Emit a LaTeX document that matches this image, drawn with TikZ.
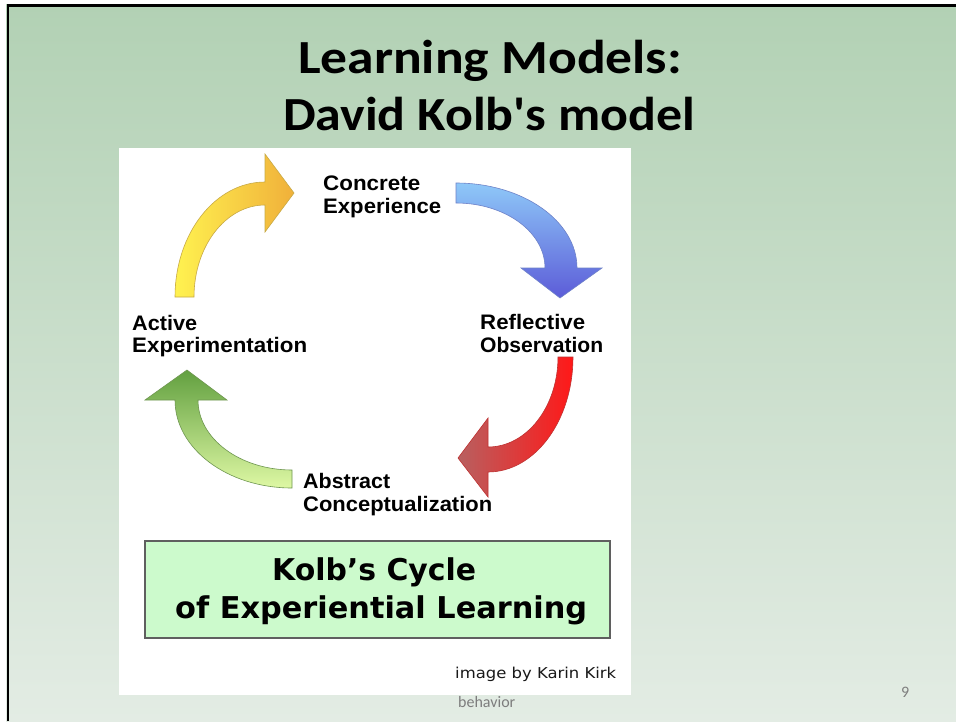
\documentclass[tikz,border=0pt]{standalone}
\usepackage{fontspec}
\usepackage{graphicx}
\newfontfamily\titlefont{Carlito}
\newfontfamily\labelfont{Liberation Sans}
\newfontfamily\boxfont{DejaVu Sans}

% set a line of text and stretch it horizontally to a given width (in pt)
\newsavebox\fitbox
\newcommand\fitwidth[2]{\sbox\fitbox{#2}\pgfmathsetmacro\fitratio{#1/\the\wd\fitbox}\scalebox{\fitratio}[1]{\usebox\fitbox}}

\definecolor{bgtop}{RGB}{178,209,180}
\definecolor{bgbot}{RGB}{227,236,228}
\definecolor{yellowtail}{RGB}{255,242,80}
\definecolor{yellowhead}{RGB}{240,176,58}
\definecolor{yellowline}{RGB}{200,170,70}
\definecolor{bluetail}{RGB}{142,200,248}
\definecolor{bluehead}{RGB}{92,92,216}
\definecolor{blueline}{RGB}{110,130,200}
\definecolor{redtail}{RGB}{255,24,24}
\definecolor{redhead}{RGB}{184,96,96}
\definecolor{redline}{RGB}{190,50,50}
\definecolor{greenhead}{RGB}{98,160,64}
\definecolor{greentail}{RGB}{222,248,164}
\definecolor{greenline}{RGB}{110,150,80}
\definecolor{boxfill}{RGB}{204,250,204}
\definecolor{boxline}{RGB}{95,95,95}
\definecolor{credit}{RGB}{25,25,25}
\definecolor{footer}{RGB}{125,125,125}

\begin{document}
\begin{tikzpicture}[x=1pt,y=-1pt,
  titletext/.style={anchor=base, inner sep=0pt, font=\titlefont\bfseries\fontsize{47.5}{57}\selectfont},
  stagelabel/.style={anchor=base west, inner sep=0pt, font=\labelfont\bfseries\fontsize{21}{23}\selectfont},
  boxtext/.style={anchor=base west, inner sep=0pt, font=\boxfont\bfseries\fontsize{30}{38}\selectfont},
  footertext/.style={anchor=base west, inner sep=0pt, text=footer, font=\titlefont\fontsize{16}{16}\selectfont},
  cyclearrow/.style={line width=0.6pt}]
\useasboundingbox (0,0) rectangle (956,721);

% slide background with its frame
\fill[white] (0,0) rectangle (956,721);
\shade[top color=bgtop, bottom color=bgbot] (6,4) rectangle (956,721);
\draw[line width=2.5pt] (7.75,721) -- (7.75,5.25) -- (956,5.25);

% white picture panel
\fill[white] (119,148) rectangle (631,695);

% title
\node[titletext] (title1) at (490,73) {\fitwidth{384}{Learning Models:}};
\node[titletext] (title2) at (489,130) {\fitwidth{412}{David Kolb's model}};

% the four curved arrows of the cycle
\shadedraw[cyclearrow, draw=yellowline, left color=yellowtail, right color=yellowhead]
  (194,297) -- (175,297) .. controls (175,233.5) and (215.3,182) .. (265,182)
  -- (265,154) -- (294,193) -- (265,232) -- (265,205)
  .. controls (225.8,205) and (194,246.2) .. (194,297) -- cycle;

\shadedraw[cyclearrow, draw=blueline, top color=bluetail, bottom color=bluehead]
  (456,203) -- (456,183) .. controls (522.8,183) and (577,221.1) .. (577,268)
  -- (602,268) -- (560,298) -- (521,268) -- (545,268)
  .. controls (545,232.1) and (505.2,203) .. (456,203) -- cycle;

\shadedraw[cyclearrow, draw=redline, left color=redhead, right color=redtail]
  (558,357) -- (573,357) .. controls (573,420.5) and (534.9,472) .. (488,472)
  -- (488,497) -- (458,458) -- (488,418) -- (488,447)
  .. controls (526.7,447) and (558,406.7) .. (558,357) -- cycle;

\shadedraw[cyclearrow, draw=greenline, top color=greenhead, bottom color=greentail]
  (292,470) -- (292,488) .. controls (227.4,488) and (175,448.6) .. (175,400)
  -- (145,400) -- (187,370) -- (227,400) -- (198,400)
  .. controls (198,438.7) and (240.1,470) .. (292,470) -- cycle;

% stage labels
\node[stagelabel] (ce1) at (323,190) {\fitwidth{97}{Concrete}};
\node[stagelabel] (ce2) at (323,213) {\fitwidth{118}{Experience}};
\node[stagelabel] (ro1) at (480,329) {\fitwidth{105}{Reflective}};
\node[stagelabel] (ro2) at (480,352) {\fitwidth{123}{Observation}};
\node[stagelabel] (ac1) at (303,488) {\fitwidth{87}{Abstract}};
\node[stagelabel] (ac2) at (303,511) {\fitwidth{189}{Conceptualization}};
\node[stagelabel] (ae1) at (132,330) {\fitwidth{65}{Active}};
\node[stagelabel] (ae2) at (132,352) {\fitwidth{175}{Experimentation}};

% caption box
\draw[line width=1.8pt, draw=boxline, fill=boxfill] (145,541) rectangle (610,638);
\node[boxtext] (cap1) at (272,580) {\fitwidth{204}{Kolb’s Cycle}};
\node[boxtext] (cap2) at (175,618) {\fitwidth{412}{of Experiential Learning}};

% credit and footer
\node[anchor=base west, inner sep=0pt, text=credit, font=\boxfont\fontsize{15}{15}\selectfont] (credit) at (455,678) {\fitwidth{161}{image by Karin Kirk}};
\node[footertext] (footer) at (458,707) {behavior};
\node[footertext] (pagenum) at (901,697) {9};
\end{tikzpicture}
\end{document}
